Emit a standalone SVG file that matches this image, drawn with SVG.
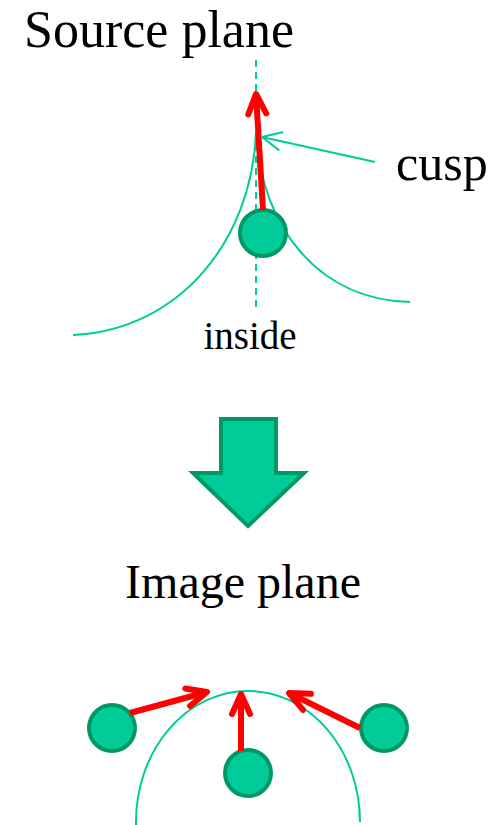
<svg xmlns="http://www.w3.org/2000/svg" width="500" height="825" viewBox="0 0 500 825">
<style>
.lbl{font-family:"Liberation Serif","Times New Roman",serif;fill:#000}
.curve{fill:none;stroke:#00CC99;stroke-width:2}
.dash{fill:none;stroke:#00CC99;stroke-width:2;stroke-dasharray:7 5}
.star{fill:#00CC99;stroke:#009966;stroke-width:4}
.red{fill:none;stroke:#FF0000;stroke-width:6;marker-end:url(#redHead)}
.ptr{fill:none;stroke:#00CC99;stroke-width:2;marker-end:url(#greenHead)}
</style>
<defs>
<marker id="redHead" markerUnits="userSpaceOnUse" orient="auto" refX="0" refY="0" markerWidth="40" markerHeight="40" overflow="visible">
<path d="M-20,-9 L0,0 L-20,9" fill="none" stroke="#FF0000" stroke-width="6" stroke-linecap="round" stroke-linejoin="round"/>
</marker>
<marker id="greenHead" markerUnits="userSpaceOnUse" orient="auto" refX="0" refY="0" markerWidth="40" markerHeight="40" overflow="visible">
<path d="M-19,-9 L0,0 L-19,9" fill="none" stroke="#00CC99" stroke-width="2" stroke-linecap="round" stroke-linejoin="round"/>
</marker>
</defs>
<rect width="500" height="825" fill="#fff"/>
<g id="title-source"><text class="lbl" x="159" y="47" font-size="52" text-anchor="middle">Source plane</text></g>
<g id="caustic">
<line class="dash" x1="256" y1="60" x2="256" y2="312"/>
<path class="curve" d="M256,132 C252,240 180,330 73,335"/>
<path class="curve" d="M256,132 C262,230 320,300 410,302"/>
</g>
<g id="source"><circle class="star" cx="263" cy="233" r="23"/></g>
<g id="label-cusp"><text class="lbl" x="396" y="180" font-size="50">cusp</text></g>
<g id="label-inside"><text class="lbl" x="250" y="349" font-size="39" text-anchor="middle">inside</text></g>
<g id="big-arrow"><polygon class="star" points="221,419 276,419 276,473 304,473 248,526 193,473 221,473" stroke-linejoin="miter"/></g>
<g id="title-image"><text class="lbl" x="243" y="598" font-size="48" text-anchor="middle">Image plane</text></g>
<g id="critical-curve"><path class="curve" d="M136,825 L136,822 A112,131 0 0 1 360,822 L359,805"/></g>
<g id="image-left"><circle class="star" cx="112" cy="728" r="23"/></g>
<g id="image-center"><circle class="star" cx="248" cy="773" r="23"/></g>
<g id="image-right"><circle class="star" cx="384" cy="728" r="23"/></g>
<g id="connectors">
<line class="red" x1="263" y1="210" x2="256" y2="94"/>
<line class="ptr" x1="375" y1="162" x2="262" y2="137"/>
<line class="red" x1="241" y1="751" x2="241" y2="694"/>
<line class="red" x1="130" y1="713" x2="207" y2="692"/>
<line class="red" x1="360" y1="728" x2="289" y2="693"/>
</g>
</svg>
